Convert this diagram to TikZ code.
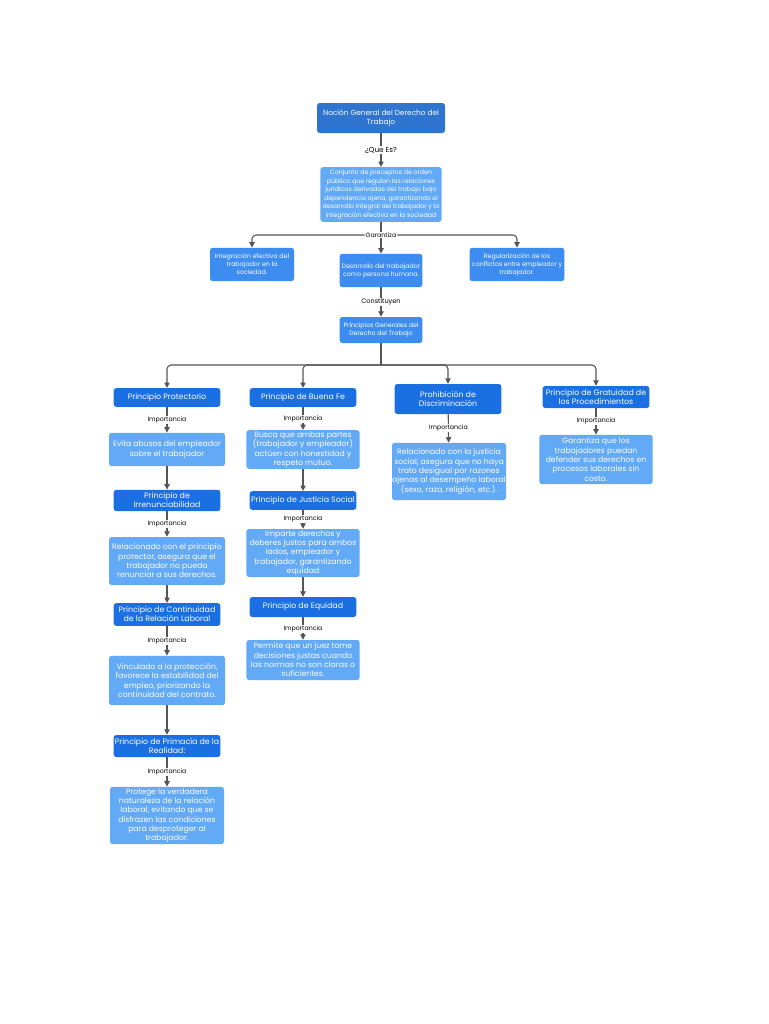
\documentclass[tikz,border=0pt]{standalone}
\usepackage{fontspec}
\setmainfont{Poppins}
\usetikzlibrary{arrows.meta}

\definecolor{titleblue}{HTML}{2F74CF}
\definecolor{mainblue}{HTML}{1A6FE3}
\definecolor{midblue}{HTML}{3D8DF0}
\definecolor{lightblue}{HTML}{62A9F6}
\definecolor{linegray}{HTML}{555555}

\tikzset{
    box/.style={rectangle, rounded corners=2pt, align=center, text=white, inner sep=0pt},
    topbox/.style={box, fill=midblue, font=\fontsize{4.7}{6}\selectfont},
    mainbox/.style={box, fill=mainblue, minimum width=80pt, font=\fontsize{5.9}{6.8}\selectfont},
    descbox/.style={box, fill=lightblue, font=\fontsize{5.8}{7}\selectfont},
    lbl/.style={fill=white, inner sep=0.6pt, text=black, font=\fontsize{4.7}{5}\selectfont},
    link/.style={draw=linegray, line width=0.8pt}
}

\begin{document}
\begin{tikzpicture}[x=0.75pt, y=-0.75pt, >={Triangle[length=4pt,width=4pt]}]
        \useasboundingbox[fill=white] (0,0) rectangle (768,1024);

        % nodes
        \node(title) [box, fill=titleblue, minimum width=96pt, minimum height=22.5pt, font=\fontsize{5.5}{6.8}\selectfont] at (381, 118) {Noción General del Derecho del\\Trabajo};
        \node(conj) [topbox, fill=lightblue, minimum width=91pt, minimum height=41pt, font=\fontsize{4.7}{6.4}\selectfont] at (381, 194.5) {Conjunto de preceptos de orden\\público que regulan las relaciones\\jurídicas derivadas del trabajo bajo\\dependencia ajena, garantizando el\\desarrollo integral del trabajador y la\\integración efectiva en la sociedad};

        \node(integ) [topbox, minimum width=63pt, minimum height=25pt] at (252, 264.5) {Integración efectiva del\\trabajador en la\\sociedad.};
        \node(desarr) [topbox, minimum width=62pt, minimum height=25pt] at (381, 270.5) {Desarrollo del trabajador\\como persona humana.};
        \node(regul) [topbox, minimum width=71pt, minimum height=25pt] at (517, 264.5) {Regularización de los\\conflictos entre empleador y\\trabajador.};
        \node(princ) [topbox, minimum width=62pt, minimum height=19.5pt] at (381, 330) {Principios Generales del\\Derecho del Trabajo};

        \node(protect) [mainbox, minimum height=14pt] at (167, 397.5) {Principio Protectorio};
        \node(buena) [mainbox, minimum height=14pt] at (303, 397.5) {Principio de Buena Fe};
        \node(prohib) [mainbox, minimum height=22.5pt] at (448, 399) {Prohibición de\\Discriminación};
        \node(gratu) [mainbox, minimum height=16.5pt] at (596, 397) {Principio de Gratuidad de\\los Procedimientos};

        \node(evita) [descbox, minimum width=87pt, minimum height=25pt] at (167, 449.5) {Evita abusos del empleador\\sobre el trabajador};
        \node(irren) [mainbox, minimum height=16pt] at (167, 500.5) {Principio de\\Irrenunciabilidad};
        \node(relac) [descbox, minimum width=87pt, minimum height=36pt] at (167, 561) {Relacionado con el principio\\protector, asegura que el\\trabajador no pueda\\renunciar a sus derechos.};
        \node(contin) [mainbox, minimum height=17pt] at (167, 614.5) {Principio de Continuidad\\de la Relación Laboral};
        \node(vincul) [descbox, minimum width=87pt, minimum height=37pt] at (167, 680.5) {Vinculado a la protección,\\favorece la estabilidad del\\empleo, priorizando la\\continuidad del contrato.};
        \node(primac) [mainbox, minimum height=16.5pt] at (167, 746) {Principio de Primacía de la\\Realidad:};
        \node(proteg) [descbox, minimum width=85.5pt, minimum height=43pt] at (167, 815.5) {Protege la verdadera\\naturaleza de la relación\\laboral, evitando que se\\disfrazen las condiciones\\para desproteger al\\trabajador.};

        \node(busca) [descbox, minimum width=85pt, minimum height=29pt] at (303, 449.5) {Busca que ambas partes\\(trabajador y empleador)\\actúen con honestidad y\\respeto mutuo.};
        \node(justic) [mainbox, minimum height=14pt] at (303, 500.5) {Principio de Justicia Social};
        \node(imparte) [descbox, minimum width=85pt, minimum height=36pt] at (303, 553) {Imparte derechos y\\deberes justos para ambos\\lados, empleador y\\trabajador, garantizando\\equidad};
        \node(equid) [mainbox, minimum height=15pt] at (303, 607) {Principio de Equidad};
        \node(permite) [descbox, minimum width=85pt, minimum height=30pt] at (303, 660) {Permite que un juez tome\\decisiones justas cuando\\las normas no son claras o\\suficientes.};

        \node(relsoc) [descbox, minimum width=85.5pt, minimum height=43pt] at (449, 471.5) {Relacionado con la justicia\\social, asegura que no haya\\trato desigual por razones\\ajenas al desempeño laboral\\(sexo, raza, religión, etc.).};
        \node(garcost) [descbox, minimum width=85pt, minimum height=37pt] at (596, 459.5) {Garantiza que los\\trabajadores puedan\\defender sus derechos en\\procesos laborales sin\\costo.};

        \node(garant) [lbl] at (381, 235) {Garantiza};
        \coordinate(split) at (381, 365);

        %edges
        \draw[->, link] (title) -- node[lbl, font=\fontsize{5.4}{6}\selectfont]{¿Que Es?} (conj);
        \draw[link] (conj) -- (garant);
        \draw[->, link, rounded corners=3pt] (garant) -| (integ);
        \draw[->, link, rounded corners=3pt] (garant) -| (regul);
        \draw[->, link] (garant) -- (desarr);
        \draw[->, link] (desarr) -- node[lbl, font=\fontsize{4.9}{5}\selectfont]{Constituyen} (princ);

        \draw[link] (princ) -- (split);
        \draw[->, link, rounded corners=3pt] (split) -| (protect);
        \draw[->, link, rounded corners=3pt] (split) -| (buena);
        \draw[->, link, rounded corners=3pt] (split) -| (prohib);
        \draw[->, link, rounded corners=3pt] (split) -| (gratu);

        \draw[->, link] (protect) -- node[lbl]{Importancia} (evita);
        \draw[->, link] (evita) -- (irren);
        \draw[->, link] (irren) -- node[lbl]{Importancia} (relac);
        \draw[->, link] (relac) -- (contin);
        \draw[->, link] (contin) -- node[lbl]{Importancia} (vincul);
        \draw[->, link] (vincul) -- (primac);
        \draw[->, link] (primac) -- node[lbl]{Importancia} (proteg);

        \draw[->, link] (buena) -- node[lbl]{Importancia} (busca);
        \draw[->, link] (busca) -- (justic);
        \draw[->, link] (justic) -- node[lbl]{Importancia} (imparte);
        \draw[->, link] (imparte) -- (equid);
        \draw[->, link] (equid) -- node[lbl]{Importancia} (permite);

        \draw[->, link] (prohib) -- node[lbl]{Importancia} (relsoc);
        \draw[->, link] (gratu) -- node[lbl]{Importancia} (garcost);

    \end{tikzpicture}
\end{document}
